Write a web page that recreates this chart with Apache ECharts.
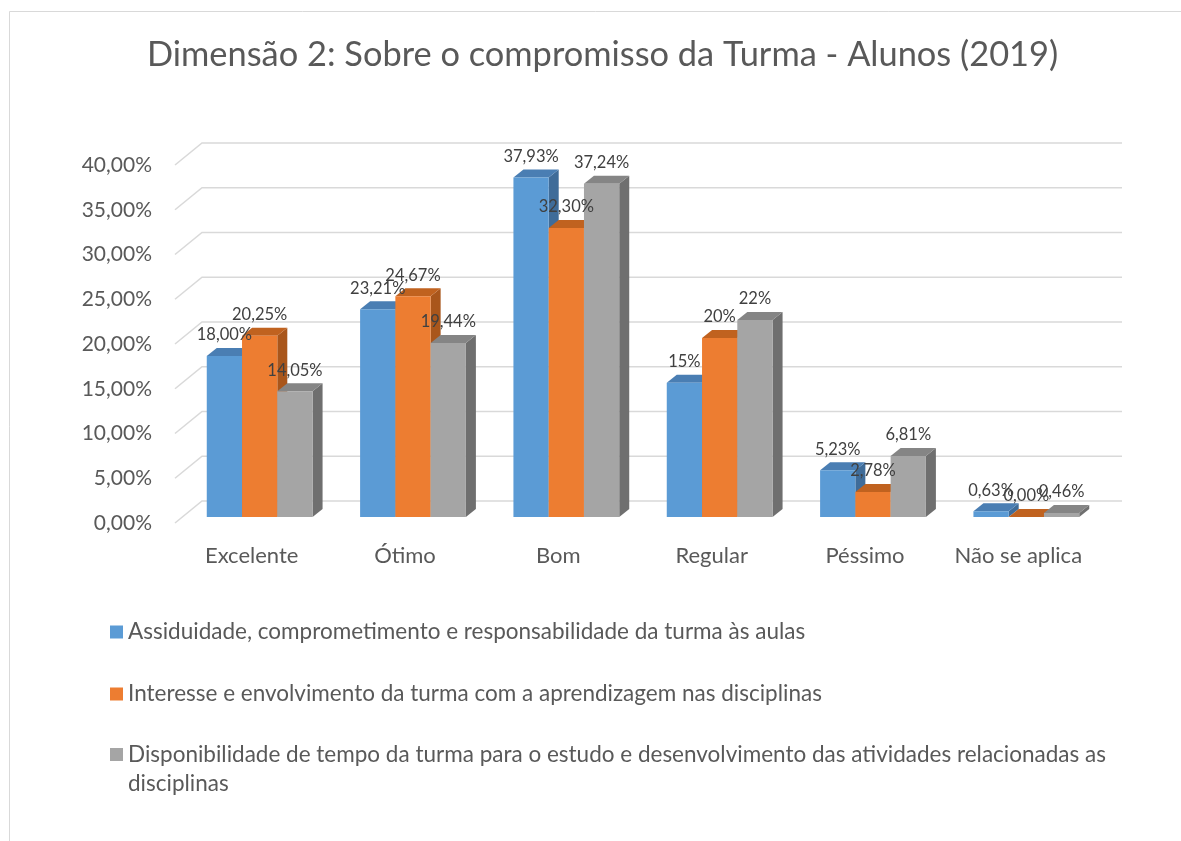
<!DOCTYPE html>
<html><head><meta charset="utf-8">
<script src="https://cdn.jsdelivr.net/npm/echarts@6/dist/echarts.min.js"></script>
<style>html,body{margin:0;padding:0;background:#fff}#c{width:1181px;height:841px}</style>
</head><body><div id="c"></div>
<script>
const categories = ['Excelente', 'Ótimo', 'Bom', 'Regular', 'Péssimo', 'Não se aplica'];
const seriesNames = [
  'Assiduidade, comprometimento e responsabilidade da turma às aulas',
  'Interesse e envolvimento da turma com a aprendizagem nas disciplinas',
  'Disponibilidade de tempo da turma para o estudo e desenvolvimento das atividades relacionadas as disciplinas'
];
const assiduidade = [18.00, 23.21, 37.93, 15, 5.23, 0.63];
const interesse = [20.25, 24.67, 32.30, 20, 2.78, 0.00];
const disponibilidade = [14.05, 19.44, 37.24, 22, 6.81, 0.46];
const assiduidadeLabels = ['18,00%', '23,21%', '37,93%', '15%', '5,23%', '0,63%'];
const interesseLabels = ['20,25%', '24,67%', '32,30%', '20%', '2,78%', '0,00%'];
const disponibilidadeLabels = ['14,05%', '19,44%', '37,24%', '22%', '6,81%', '0,46%'];
const yTicks = [0, 5, 10, 15, 20, 25, 30, 35, 40];

const FONT = 'Lato';
const WALL_DX = 27, WALL_DY = -22;   // depth of floor/wall
const PLANE_DX = 8, PLANE_DY = -6;   // bar front plane
const D_DX = 10, D_DY = -8;          // bar depth
const BAR_FRAC = 0.23;

const palettes = [
  {front: '#5B9BD5', top: '#4A7EB3', side: '#3F6C99'},
  {front: '#ED7D31', top: '#C0621F', side: '#A9561B'},
  {front: '#A5A5A5', top: '#858585', side: '#6F6F6F'}
];

function barSeries(idx, name, values, labels) {
  const p = palettes[idx];
  return {
    type: 'custom', name: name, z: 3,
    itemStyle: {color: p.front},
    data: values.map((v, i) => [i, v]),
    renderItem: function (params, api) {
      const c = api.value(0), v = api.value(1);
      const base = api.coord([c, 0]);
      const top = api.coord([c, v]);
      const band = api.size([1, 0])[0];
      const w = band * BAR_FRAC;
      const x0 = base[0] + PLANE_DX - 1.5 * w + idx * w;
      const x1 = x0 + w;
      const yb = base[1] + PLANE_DY;
      const yt = top[1] + PLANE_DY;
      return {
        type: 'group',
        children: [
          {type: 'polygon', shape: {points: [[x1, yt], [x1 + D_DX, yt + D_DY], [x1 + D_DX, yb + D_DY], [x1, yb]]}, style: {fill: p.side}},
          {type: 'polygon', shape: {points: [[x0, yt], [x0 + D_DX, yt + D_DY], [x1 + D_DX, yt + D_DY], [x1, yt]]}, style: {fill: p.top}},
          {type: 'rect', shape: {x: x0, y: yt, width: w, height: yb - yt}, style: {fill: p.front}},
          {type: 'text', z2: 100, style: {text: labels[params.dataIndex], x: (x0 + x1) / 2, y: yt - 21,
            align: 'center', verticalAlign: 'middle', font: '16.5px ' + FONT, fill: '#404040'}}
        ]
      };
    }
  };
}

const chart = echarts.init(document.getElementById('c'));
const legendBase = {
  orient: 'vertical', left: 110, padding: 0, itemWidth: 13, itemHeight: 13, icon: 'rect',
  selectedMode: false,
  textStyle: {fontFamily: FONT, fontSize: 22.5, color: '#595959'}
};
chart.setOption({
  backgroundColor: '#fff',
  animation: false,
  title: {
    text: 'Dimensão 2: Sobre o compromisso da Turma - Alunos (2019)',
    left: 147, top: 38, padding: 0,
    textStyle: {fontFamily: FONT, fontSize: 34.4, fontWeight: 'normal', color: '#595959'}
  },
  graphic: [{type: 'rect', silent: true, z: -10, shape: {x: 9.5, y: 11.5, width: 1400, height: 1000},
    style: {fill: 'none', stroke: '#D9D9D9', lineWidth: 1}}],
  legend: [
    Object.assign({}, legendBase, {data: [seriesNames[0]], top: 620.5}),
    Object.assign({}, legendBase, {data: [seriesNames[1]], top: 682.5}),
    Object.assign({}, legendBase, {data: [seriesNames[2]], top: 711,
      formatter: n => '\n' + n.replace(/ (disciplinas)$/, '\n$1'),
      textStyle: {fontFamily: FONT, fontSize: 22.5, color: '#595959', lineHeight: 29}})
  ],
  grid: {left: 175, right: 86, top: 165, bottom: 318, containLabel: false},
  xAxis: {
    type: 'category', data: categories,
    axisLine: {show: false}, axisTick: {show: false}, splitLine: {show: false},
    axisLabel: {interval: 0, hideOverlap: false, margin: 22, fontFamily: FONT, fontSize: 22, color: '#595959'}
  },
  yAxis: {
    type: 'value', min: 0, max: 40, interval: 5,
    axisLine: {show: false}, axisTick: {show: false}, splitLine: {show: false},
    axisLabel: {margin: 23, fontFamily: FONT, fontSize: 21, color: '#595959',
      formatter: v => v.toFixed(2).replace('.', ',') + '%'}
  },
  series: [
    {
      type: 'custom', silent: true, z: 1,
      data: yTicks.map(t => [0, t]),
      renderItem: function (params, api) {
        const cs = params.coordSys;
        const y = api.coord([0, api.value(1)])[1];
        const L = cs.x, R = cs.x + cs.width;
        return {type: 'polyline', shape: {points: [[L, y], [L + WALL_DX, y + WALL_DY], [R + WALL_DX, y + WALL_DY]]},
          style: {stroke: '#D9D9D9', lineWidth: 1.5, fill: null}};
      }
    },
    barSeries(0, seriesNames[0], assiduidade, assiduidadeLabels),
    barSeries(1, seriesNames[1], interesse, interesseLabels),
    barSeries(2, seriesNames[2], disponibilidade, disponibilidadeLabels)
  ]
});
</script></body></html>
